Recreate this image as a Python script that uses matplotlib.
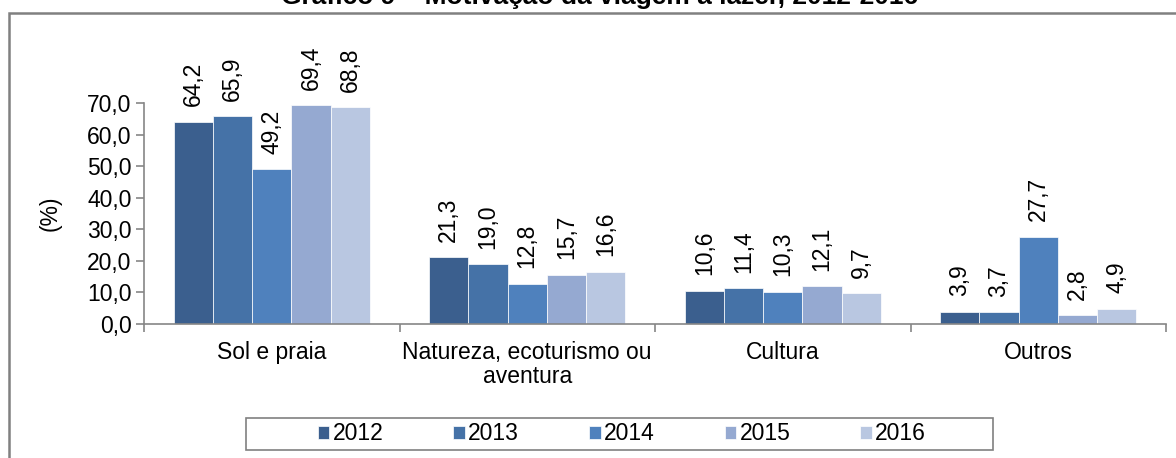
import matplotlib
matplotlib.use("Agg")
import matplotlib.pyplot as plt
import numpy as np
from matplotlib.ticker import FuncFormatter

plt.rcParams['font.family'] = ['Liberation Sans', 'DejaVu Sans']

categories = ["Sol e praia", "Natureza, ecoturismo ou\naventura", "Cultura", "Outros"]
years = ["2012", "2013", "2014", "2015", "2016"]
values = {
    "2012": [64.2, 21.3, 10.6, 3.9],
    "2013": [65.9, 19.0, 11.4, 3.7],
    "2014": [49.2, 12.8, 10.3, 27.7],
    "2015": [69.4, 15.7, 12.1, 2.8],
    "2016": [68.8, 16.6, 9.7, 4.9],
}
colors = ["#3B5F8E", "#4572A7", "#4F81BD", "#95A9D1", "#B9C7E1"]
title = "Gráfico 9 – Motivação da viagem a lazer, 2012-2016"

FS = 16.5
W, H = 1176, 458
fig = plt.figure(figsize=(W / 100, H / 100), dpi=100)
ax = fig.add_axes([144 / W, 1 - 324 / H, (1166 - 144) / W, (324 - 103.3) / H])

x = np.arange(len(categories))
bw = 0.1534
for i, (yr, c) in enumerate(zip(years, colors)):
    offs = (i - 2) * bw
    bars = ax.bar(x + offs, values[yr], width=bw, color=c, edgecolor="#FFFFFF",
                  linewidth=0.5, label=yr)
    ax.bar_label(bars, labels=[f"{v:.1f}".replace(".", ",") for v in values[yr]],
                 rotation=90, padding=11, fontsize=FS, color="black")

ax.set_xlim(-0.5, 3.5)
ax.set_ylim(0, 70)
ax.set_yticks(np.arange(0, 71, 10))
ax.yaxis.set_major_formatter(FuncFormatter(lambda v, p: f"{v:.1f}".replace(".", ",")))
ax.set_xticks(x)
ax.set_xticklabels(categories, fontsize=FS, linespacing=1.05)
ax.set_xticks(np.arange(-0.5, 3.6, 1), minor=True)
ax.tick_params(axis="x", which="major", length=0, pad=12)
ax.tick_params(axis="x", which="minor", length=6, color="#868686", width=1.2)
ax.tick_params(axis="y", length=6, color="#868686", width=1.2, labelsize=FS, pad=3)
for s in ["top", "right"]:
    ax.spines[s].set_visible(False)
for s in ["left", "bottom"]:
    ax.spines[s].set_color("#868686")
    ax.spines[s].set_linewidth(1.2)
ax.set_ylabel("(%)", fontsize=FS, labelpad=18)

leg = fig.legend(loc="center", bbox_to_anchor=(622 / W, 1 - 434 / H),
                 ncol=5, frameon=False, fontsize=FS,
                 handlelength=0.5, handleheight=0.5, handletextpad=0.15,
                 columnspacing=3.05, borderpad=0.2)
legbox = plt.Rectangle((246 / W, 1 - 450 / H), (993 - 246) / W, 32 / H,
                       transform=fig.transFigure, fill=False,
                       edgecolor="#808080", linewidth=1.2)
fig.add_artist(legbox)

fig.text(600 / W, 1 - 4 / H, title, ha="center", va="baseline", fontsize=19,
         fontweight="bold")

frame = plt.Rectangle((9 / W, -0.1), 1.2, 1 - 12.5 / H + 0.1, transform=fig.transFigure,
                      fill=False, edgecolor="#808080", linewidth=1.8)
fig.add_artist(frame)

fig.savefig("out.png", dpi=100)
